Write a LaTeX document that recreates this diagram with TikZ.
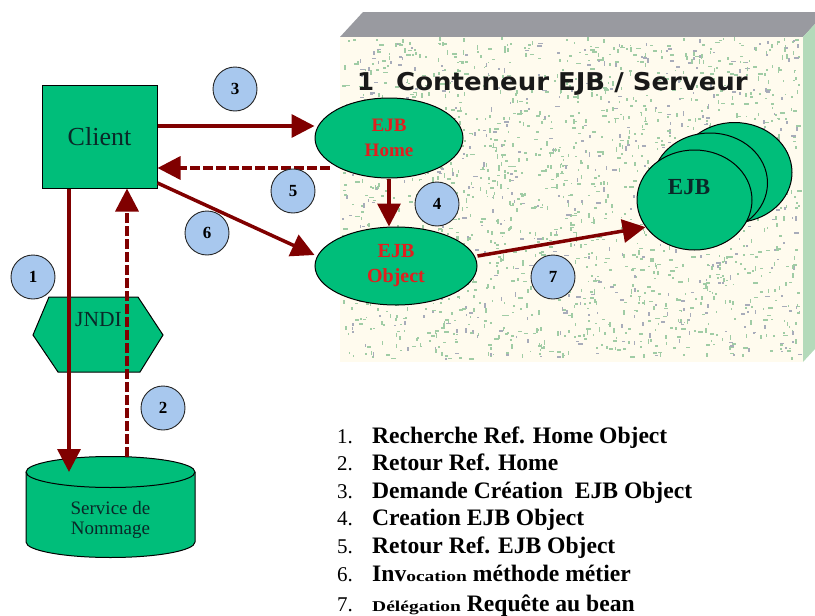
\documentclass[tikz,border=0pt]{standalone}
\usepackage{fontspec}
\setmainfont{Liberation Serif}
\newfontfamily\titlefont{DejaVu Sans}
\usetikzlibrary{arrows.meta,shapes.geometric,calc}

\definecolor{nodegreen}{RGB}{0,190,122}
\definecolor{arrowred}{RGB}{128,0,0}
\definecolor{badge}{RGB}{168,200,238}
\definecolor{facecream}{RGB}{255,251,238}
\definecolor{speckgreen}{RGB}{160,204,165}
\definecolor{speckgray}{RGB}{168,172,186}
\definecolor{topgray}{RGB}{153,154,160}
\definecolor{sidegreen}{RGB}{180,218,186}
\definecolor{ejbred}{RGB}{225,30,30}
\definecolor{ejbdark}{RGB}{10,40,40}

\newcommand{\smallwide}[1]{\scalebox{1.3}[1]{\fontsize{15}{15}\selectfont\bfseries #1}}

\begin{document}
\begin{tikzpicture}[x=1pt,y=1pt,
  greenshape/.style={fill=nodegreen,draw=black,line width=1pt},
  flow/.style={draw=arrowred,line width=3.5pt,-{Triangle[length=23pt,width=23pt]}},
  backflow/.style={flow,dash pattern=on 10pt off 3pt},
  badgestyle/.style={circle,fill=badge,draw=black!85,line width=0.9pt,
    minimum size=44pt,inner sep=0pt,font=\fontsize{17}{17}\selectfont\bfseries},
  legnum/.style={anchor=base west,inner sep=0pt,font=\fontsize{21}{21}\selectfont},
  legtext/.style={anchor=base west,inner sep=0pt,font=\fontsize{23.6}{24}\selectfont\bfseries},
]
\useasboundingbox (0,0) rectangle (815,-616);

% ---- container block: top bevel, side, speckled front face
\fill[topgray] (340,-37) -- (363,-12) -- (826,-12) -- (803,-37) -- cycle;
\fill[sidegreen] (803,-37) -- (826,-12) -- (826,-337) -- (803,-362) -- cycle;
\fill[facecream] (340,-37) rectangle (803,-362);
\pgfmathsetseed{42}
\foreach \k in {1,...,2100}{
  \pgfmathsetmacro{\px}{342+457*rnd}
  \pgfmathsetmacro{\py}{-40-320*rnd}
  \pgfmathsetmacro{\len}{1.5+3.5*rnd}
  \pgfmathtruncatemacro{\dir}{2*rnd}
  \pgfmathtruncatemacro{\col}{5*rnd}
  \ifnum\col=0 \def\speck{speckgray}\else\def\speck{speckgreen}\fi
  \ifnum\dir=0
    \fill[\speck] (\px,\py) rectangle ++(\len,1.6);
  \else
    \fill[\speck] (\px,\py) rectangle ++(1.6,\len);
  \fi
}
\node[anchor=base west,inner sep=0pt,font=\titlefont\bfseries\fontsize{24.5}{25}\selectfont,text=black!90]
  (title) at (357,-90) {1\hspace{22pt}\scalebox{1.06}[1]{Conteneur EJB / Serveur}};

% ---- naming service side
\path[greenshape] (33,-335) -- (49,-297) -- (138,-297) -- (163,-335) -- (140,-372) -- (58,-372) -- cycle;
\node[font=\fontsize{21.5}{22}\selectfont,text=ejbdark] (jndi) at (98.5,-320) {JNDI};

\fill[nodegreen] (26,-472) -- (26,-542) arc[start angle=180,end angle=360,x radius=84.5pt,y radius=15.5pt]
  -- (195,-472) arc[start angle=0,end angle=180,x radius=84.5pt,y radius=15.5pt] -- cycle;
\draw[line width=1pt] (26,-472) -- (26,-542) arc[start angle=180,end angle=360,x radius=84.5pt,y radius=15.5pt]
  -- (195,-472) arc[start angle=0,end angle=180,x radius=84.5pt,y radius=15.5pt];
\draw[line width=1pt] (26,-472) arc[start angle=180,end angle=360,x radius=84.5pt,y radius=15.5pt];
\coordinate (dbcenter) at (110.5,-472);
\coordinate (dbrim) at (110.5,-457);
\node[align=center,font=\fontsize{19}{20}\selectfont,text=ejbdark] (naming) at (110.5,-520) {Service de\\Nommage};

% ---- client and container components
\node[greenshape,minimum width=115pt,minimum height=103pt,inner sep=0pt,
  font=\fontsize{26}{26}\selectfont,text=ejbdark] (client) at (99.5,-136.5) {\raisebox{-4pt}{Client}};

\node[greenshape,ellipse,minimum width=148pt,minimum height=80pt,inner sep=0pt,align=center,
  text=ejbred,font=\bfseries\fontsize{19}{25}\selectfont] (home) at (389,-138) {EJB\\Home};
\node[greenshape,ellipse,minimum width=162pt,minimum height=78pt,inner sep=0pt,align=center,
  text=ejbred,font=\bfseries\fontsize{20}{25}\selectfont] (object) at (396,-266) {EJB\\Object};

\node[greenshape,ellipse,minimum width=115pt,minimum height=100pt] (ejb3) at (734.5,-172.5) {};
\node[greenshape,ellipse,minimum width=115pt,minimum height=100pt] (ejb2) at (710,-183) {};
\node[greenshape,ellipse,minimum width=115pt,minimum height=100pt] (ejb1) at (694.5,-200) {};
\node[font=\bfseries\fontsize{23}{23}\selectfont,text=ejbdark] (ejblabel) at (689,-187) {EJB};

% ---- message flows
\draw[flow] ([xshift=-30.5pt]client.south) -- ([xshift=-30.5pt]client.south |- dbcenter);
\draw[backflow] ([xshift=27.5pt]client.south |- dbrim) -- ([xshift=27.5pt]client.south);
\draw[flow] ([yshift=10.5pt]client.east) -- ([yshift=10.5pt]client.east -| home.west);
\draw[backflow] ([yshift=-31.5pt]client.east -| home.west) ++(15pt,0) -- ([yshift=-31.5pt]client.east);
\draw[flow] (home.south) -- (home.south |- object.north);
\draw[flow] ([yshift=-46.5pt]client.east) -- ([yshift=11pt]object.west);
\draw[flow] ([yshift=10pt]object.east) -- (ejb1.209);

% ---- step badges
\node[badgestyle] (b1) at (33,-277) {1};
\node[badgestyle] (b2) at (163,-408) {2};
\node[badgestyle] (b3) at (235,-89) {3};
\node[badgestyle] (b4) at (437,-204) {4};
\node[badgestyle] (b5) at (293,-191) {5};
\node[badgestyle] (b6) at (207,-233) {6};
\node[badgestyle] (b7) at (553,-277) {7};

% ---- legend
\node[legnum] (n1) at (337,-443) {1.};
\node[legtext] (t1) at (372,-443) {Recherche Ref. Home Object};
\node[legnum] (n2) at (337,-470) {2.};
\node[legtext] (t2) at (372,-470) {Retour Ref. Home};
\node[legnum] (n3) at (337,-498) {3.};
\node[legtext] (t3) at (372,-498) {Demande Création\hspace{6pt} EJB Object};
\node[legnum] (n4) at (337,-525) {4.};
\node[legtext] (t4) at (372,-525) {Creation EJB Object};
\node[legnum] (n5) at (337,-553) {5.};
\node[legtext] (t5) at (372,-553) {Retour Ref. EJB Object};
\node[legnum] (n6) at (337,-581) {6.};
\node[legtext] (t6) at (372,-581) {Inv\smallwide{ocation} méthode métier};
\node[legnum] (n7) at (337,-611) {7.};
\node[legtext] (t7) at (372,-611) {\smallwide{Délégation} Requête au bean};
\end{tikzpicture}
\end{document}
